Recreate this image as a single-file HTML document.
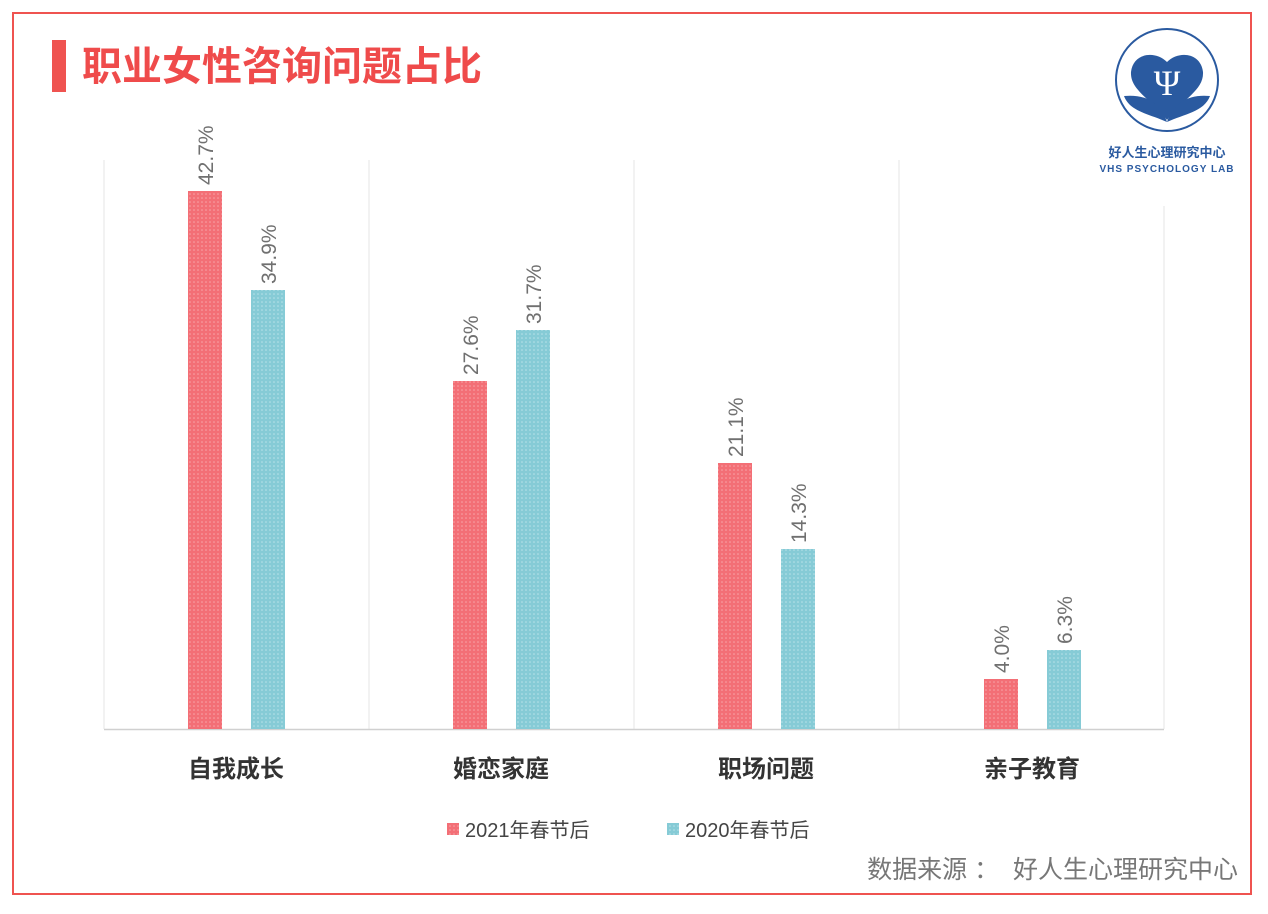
<!DOCTYPE html>
<html><head><meta charset="utf-8"><style>
body{margin:0;background:#fff;font-family:"Liberation Sans","Noto Sans CJK SC",sans-serif}
</style></head><body>
<svg width="1268" height="909" xmlns="http://www.w3.org/2000/svg" font-family="Liberation Sans, Noto Sans CJK SC, sans-serif">
<defs>
<pattern id="pr" width="4" height="4" patternUnits="userSpaceOnUse"><rect width="4" height="4" fill="#f36f76"/><circle cx="2" cy="2" r="0.8" fill="#f8a5a9"/></pattern>
<pattern id="pb" width="4" height="4" patternUnits="userSpaceOnUse"><rect width="4" height="4" fill="#86cbd6"/><circle cx="2" cy="2" r="0.8" fill="#b9e2e9"/></pattern>
</defs>
<rect x="13" y="13" width="1238" height="881" fill="none" stroke="#ef5350" stroke-width="2"/>
<rect x="52" y="40" width="14" height="52" fill="#ef5350"/>
<text x="82" y="80" font-size="40" font-weight="bold" fill="#ef4b4b">职业女性咨询问题占比</text>
<circle cx="1167" cy="80" r="51" fill="none" stroke="#2a5aa0" stroke-width="2"/>
<path d="M1167 120 C1150 98 1130 90 1131 72 C1133 53 1155 50 1167 62 C1179 50 1201 53 1203 72 C1204 90 1184 98 1167 120Z" fill="#2a5aa0"/>
<path d="M1167 122 C1150 114 1130 112 1124 96 C1145 94 1160 102 1167 122Z M1167 122 C1184 114 1204 112 1210 96 C1189 94 1174 102 1167 122Z" fill="#2a5aa0"/>
<text x="1167" y="95" font-size="36" fill="#fff" text-anchor="middle" font-family="Liberation Serif, serif">Ψ</text>
<text x="1167" y="157" font-size="13" font-weight="bold" fill="#2a5aa0" text-anchor="middle">好人生心理研究中心</text>
<text x="1167" y="172" font-size="10" font-weight="bold" fill="#2a5aa0" text-anchor="middle" letter-spacing="1">VHS PSYCHOLOGY LAB</text>
<g stroke="#e6e6e6" stroke-width="1">
<line x1="104" y1="160" x2="104" y2="729"/><line x1="369" y1="160" x2="369" y2="729"/><line x1="634" y1="160" x2="634" y2="729"/><line x1="899" y1="160" x2="899" y2="729"/><line x1="1164" y1="206" x2="1164" y2="729"/>
</g>
<line x1="104" y1="729.5" x2="1164" y2="729.5" stroke="#d0d0d0" stroke-width="1.5"/>
<g>
<rect x="188" y="191" width="34" height="538" fill="url(#pr)"/>
<rect x="251" y="290" width="34" height="439" fill="url(#pb)"/>
<rect x="453" y="381" width="34" height="348" fill="url(#pr)"/>
<rect x="516" y="330" width="34" height="399" fill="url(#pb)"/>
<rect x="718" y="463" width="34" height="266" fill="url(#pr)"/>
<rect x="781" y="549" width="34" height="180" fill="url(#pb)"/>
<rect x="984" y="679" width="34" height="50" fill="url(#pr)"/>
<rect x="1047" y="650" width="34" height="79" fill="url(#pb)"/>
</g>
<g font-size="21" fill="#707070">
<text transform="translate(213,185) rotate(-90)">42.7%</text>
<text transform="translate(276,284) rotate(-90)">34.9%</text>
<text transform="translate(478,375) rotate(-90)">27.6%</text>
<text transform="translate(541,324) rotate(-90)">31.7%</text>
<text transform="translate(743,457) rotate(-90)">21.1%</text>
<text transform="translate(806,543) rotate(-90)">14.3%</text>
<text transform="translate(1009,673) rotate(-90)">4.0%</text>
<text transform="translate(1072,644) rotate(-90)">6.3%</text>
</g>
<g font-size="24" font-weight="bold" fill="#333" text-anchor="middle">
<text x="236" y="777">自我成长</text><text x="501" y="777">婚恋家庭</text><text x="766" y="777">职场问题</text><text x="1032" y="777">亲子教育</text>
</g>
<rect x="447" y="823" width="12" height="12" fill="url(#pr)"/>
<text x="465" y="837" font-size="20" fill="#444">2021年春节后</text>
<rect x="667" y="823" width="12" height="12" fill="url(#pb)"/>
<text x="685" y="837" font-size="20" fill="#444">2020年春节后</text>
<text x="1238" y="878" font-size="25" fill="#777" text-anchor="end" xml:space="preserve">数据来源 ：  好人生心理研究中心</text>
</svg>
</body></html>
